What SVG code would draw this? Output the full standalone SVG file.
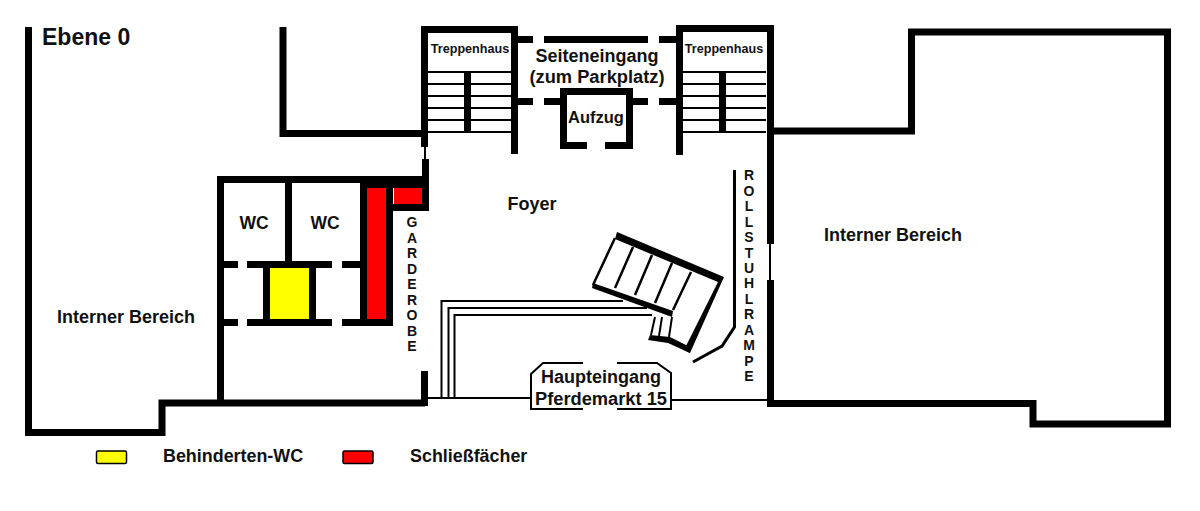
<svg xmlns="http://www.w3.org/2000/svg" width="1200" height="511" viewBox="0 0 1200 511">
<style>
.w{fill:none;stroke:#000;stroke-width:7;stroke-linejoin:miter}
.s{fill:none;stroke:#000;stroke-width:2}
.t{fill:none;stroke:#000;stroke-width:2.5}
text{font-family:"Liberation Sans",Arial,sans-serif;font-weight:bold;fill:#111}
.m{text-anchor:middle}
</style>
<rect width="1200" height="511" fill="#fff"/>
<g id="outer-walls">
<path class="w" d="M28.500 27V432.500H162V403H425"/>
<path class="w" d="M283 27V133.500H424"/>
<path class="w" d="M770 131H911.500V32H1167.500V424H1033V403.500H770"/>
<path class="w" d="M770.500 25V244M770.500 280V407"/>
<path class="s" d="M770 244V280"/>
</g>
<g id="left-rooms">
<rect x="270" y="268" width="39" height="51" fill="#ff0"/>
<rect x="360" y="176" width="69" height="12"/>
<rect x="367" y="188" width="19" height="131" fill="#f00"/>
<rect x="394" y="188" width="28" height="16" fill="#f00"/>
<path class="w" d="M220.500 403V179.500H425.500"/>
<path class="w" d="M288.500 180V264"/>
<path class="w" d="M224 264.500H238M247 264.500H332M342 264.500H360"/>
<path class="w" d="M224 322.500H238M247 322.500H332M342 322.500H393"/>
<path class="w" d="M266.500 268V319M312.500 268V319"/>
<path class="w" d="M363.500 180V326M389.500 180V326"/>
<path class="w" d="M390 207.500H429"/>
<path class="w" d="M425.500 159V211M424.500 371V406"/>
<path class="w" d="M424.500 26V147"/>
<path class="s" d="M425 147V159"/>
</g>
<g id="stairwell-left">
<path class="w" d="M421 29.500H514.500V154"/>
<path class="s" d="M428 72H511M428 84H511M428 96H511M428 108H511M428 120H511M428 132H511"/>
<path class="w" d="M467.500 72V132"/>
</g>
<g id="stairwell-right">
<path class="w" d="M679.500 155V28.500H770"/>
<path class="s" d="M683 72H766M683 84H766M683 96H766M683 108H766M683 120H766M683 132H766"/>
<path class="w" d="M722.500 72V132"/>
</g>
<g id="side-entrance">
<path class="w" d="M518 39.500H533M544 39.500H648M659 39.500H676M518 101.500H533M544 101.500H560M632 101.500H648M659 101.500H676"/>
</g>
<g id="lift">
<path class="w" d="M587 145.500H563.500V91.500H629.500V145.500H605"/>
</g>
<g id="main-stairs">
<polygon points="617,232 724,277 690,353 684,350 718,282 615,239"/>
<polygon points="593,283 673,311 672,317 592,288"/>
<polygon points="650,335 670,337 690,347 690,353 668,343 648,340"/>
<path class="t" d="M615 238L593 285M633 247L615 288M652 255L635 295M672 263L655 303M691 272L673 310"/>
<path class="s" d="M655 317L651 335M662 317L659 336M672 317L669 337"/>
</g>
<g id="ramp">
<path d="M734.500 170V327L722 346L693 362" fill="none" stroke="#000" stroke-width="3"/>
</g>
<g id="entrance">
<path class="s" d="M428 398H531M671 400H767"/>
<path class="s" d="M441.500 398V301H623M448.500 398V308H647M454.500 398V315H652"/>
<path class="s" d="M583 363H543L531 374V409H583M617 363H657L671 373V409H617"/>
</g>
<g id="labels">
<text x="42" y="45" font-size="23">Ebene 0</text>
<text x="470" y="53" font-size="12.600" class="m">Treppenhaus</text>
<text x="724" y="53" font-size="12.600" class="m">Treppenhaus</text>
<text x="597" y="62" font-size="18" class="m">Seiteneingang</text>
<text x="597" y="83" font-size="18.300" class="m">(zum Parkplatz)</text>
<text x="596" y="123" font-size="16.500" class="m">Aufzug</text>
<text x="532" y="210" font-size="18" class="m">Foyer</text>
<text x="254" y="229" font-size="17.500" class="m">WC</text>
<text x="325" y="229" font-size="17.500" class="m">WC</text>
<text x="893" y="241" font-size="18" class="m">Interner Bereich</text>
<text x="126" y="323" font-size="18" class="m">Interner Bereich</text>
<text x="601" y="383" font-size="18" class="m">Haupteingang</text>
<text x="601" y="405" font-size="18.300" class="m">Pferdemarkt 15</text>
<text x="412" y="227 242.500 258 273.500 289 304.500 320 335.500 351" font-size="14" class="m"><tspan x="412">G</tspan><tspan x="412">A</tspan><tspan x="412">R</tspan><tspan x="412">D</tspan><tspan x="412">E</tspan><tspan x="412">R</tspan><tspan x="412">O</tspan><tspan x="412">B</tspan><tspan x="412">E</tspan></text>
<text x="749" y="180 195.500 211 226.500 242 257.500 273 288 303.500 319 334.500 350 365.500 381" font-size="14" class="m"><tspan x="749">R</tspan><tspan x="749">O</tspan><tspan x="749">L</tspan><tspan x="749">L</tspan><tspan x="749">S</tspan><tspan x="749">T</tspan><tspan x="749">U</tspan><tspan x="749">H</tspan><tspan x="749">L</tspan><tspan x="749">R</tspan><tspan x="749">A</tspan><tspan x="749">M</tspan><tspan x="749">P</tspan><tspan x="749">E</tspan></text>
</g>
<g id="legend">
<rect x="96.500" y="451" width="30" height="12.500" rx="1.500" fill="#ff0" stroke="#000" stroke-width="1.500"/>
<rect x="343" y="451" width="30" height="12.500" rx="1.500" fill="#f00" stroke="#000" stroke-width="1.500"/>
<text x="163" y="462" font-size="17.900">Behinderten-WC</text>
<text x="410" y="462" font-size="17.900">Schließfächer</text>
</g>
</svg>
